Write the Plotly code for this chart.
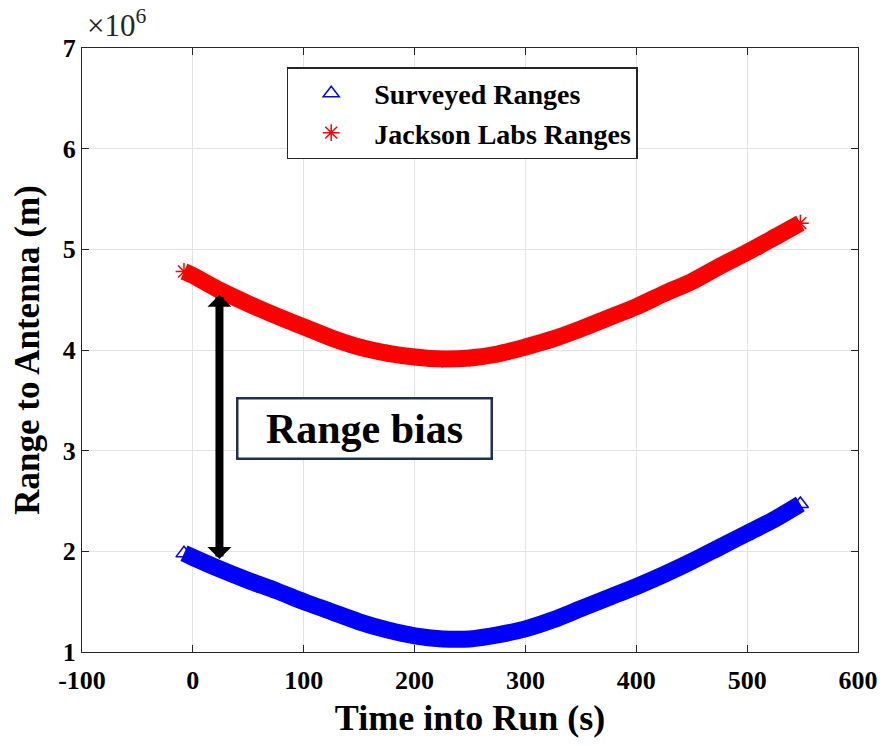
import plotly.graph_objects as go

# ---- data ----
time_s = [-8, 0, 25, 50, 75, 100, 125, 150, 175, 200, 225, 250, 275, 300,
          325, 350, 375, 400, 425, 450, 475, 500, 525, 548]
surveyed_range_m = [1.98e6, 1.94e6, 1.82e6, 1.71e6, 1.61e6, 1.50e6, 1.40e6, 1.30e6,
                    1.22e6, 1.16e6, 1.13e6, 1.13e6, 1.17e6, 1.23e6, 1.32e6, 1.43e6,
                    1.54e6, 1.65e6, 1.77e6, 1.90e6, 2.04e6, 2.18e6, 2.32e6, 2.47e6]
jackson_range_m = [4.78e6, 4.74e6, 4.59e6, 4.46e6, 4.34e6, 4.23e6, 4.12e6, 4.03e6,
                   3.97e6, 3.93e6, 3.91e6, 3.92e6, 3.96e6, 4.03e6, 4.11e6, 4.21e6,
                   4.32e6, 4.43e6, 4.56e6, 4.68e6, 4.83e6, 4.97e6, 5.12e6, 5.26e6]

x_ticks = [-100, 0, 100, 200, 300, 400, 500, 600]
y_ticks = [1e6, 2e6, 3e6, 4e6, 5e6, 6e6, 7e6]
y_tick_labels = ["1", "2", "3", "4", "5", "6", "7"]

# annotation anchors (data units)
arrow_x = 24
arrow_top = 4.55e6
arrow_bottom = 1.91e6
label_x = 155
label_y = 3.22e6

FONT = "Liberation Serif"
BLUE = "#0000ff"
RED = "#ff0000"
AX = "#262626"

fig = go.Figure()

# dense bands (the overlapping markers of the original)
fig.add_trace(go.Scatter(x=time_s, y=surveyed_range_m, mode="lines",
                         line=dict(color=BLUE, width=17, shape="spline", smoothing=0.8),
                         showlegend=False, hoverinfo="skip"))
fig.add_trace(go.Scatter(x=time_s, y=jackson_range_m, mode="lines",
                         line=dict(color=RED, width=17, shape="spline", smoothing=0.8),
                         showlegend=False, hoverinfo="skip"))
# marker traces
fig.add_trace(go.Scatter(x=time_s, y=surveyed_range_m, mode="markers",
                         name="Surveyed Ranges",
                         marker=dict(symbol="triangle-up-open", size=14,
                                     color=BLUE, line=dict(width=1.5, color=BLUE))))
fig.add_trace(go.Scatter(x=time_s, y=jackson_range_m, mode="markers",
                         name="Jackson Labs Ranges",
                         marker=dict(symbol="asterisk-open", size=14,
                                     color=RED, line=dict(width=1.5, color=RED))))

annotations = [
    # double headed arrow
    dict(x=arrow_x, y=arrow_top, ax=arrow_x, ay=arrow_bottom,
         xref="x", yref="y", axref="x", ayref="y", text="",
         showarrow=True, arrowhead=1, startarrowhead=1, arrowside="end+start",
         arrowwidth=8, arrowsize=0.5, startarrowsize=0.5, arrowcolor="#000000"),
    # label box
    dict(x=label_x, y=label_y, xref="x", yref="y", text="Range bias",
         showarrow=False, font=dict(family=FONT, size=42, color="#000000", weight="bold"),
         bgcolor="#ffffff", bordercolor="#1f3050", borderwidth=2.5,
         width=250, height=56, borderpad=1),
    # exponent
    dict(x=0, y=1, xref="paper", yref="paper", xanchor="left", yanchor="bottom",
         yshift=3, xshift=3, text="×10<sup>6</sup>", showarrow=False,
         font=dict(family=FONT, size=31, color="#262626", weight="normal")),
]

fig.update_layout(
    width=890, height=746,
    margin=dict(l=82, r=27, t=48, b=94),
    paper_bgcolor="#ffffff", plot_bgcolor="#ffffff",
    font=dict(family=FONT, size=26, color="#000000", weight="bold"),
    showlegend=True,
    legend=dict(x=0.2638, y=0.9685, xanchor="left", yanchor="top",
                bgcolor="#ffffff", bordercolor=AX, borderwidth=1.5,
                font=dict(family=FONT, size=28, color="#000000", weight="bold"),
                itemwidth=76, tracegroupgap=0),
    annotations=annotations,
)

fig.update_xaxes(range=[-100, 600], tickvals=x_ticks,
                 ticktext=[str(v) for v in x_ticks],
                 ticks="inside", ticklen=7, tickwidth=1.3, tickcolor=AX,
                 showline=True, linecolor=AX, linewidth=1.3, mirror="ticks",
                 showgrid=True, gridcolor="#e3e3e3", gridwidth=1, zeroline=False,
                 ticklabelstandoff=5,
                 tickfont=dict(family=FONT, size=26, color="#000000", weight="bold"),
                 title=dict(text="Time into Run (s)", standoff=10,
                            font=dict(family=FONT, size=36, color="#000000", weight="bold")))
fig.update_yaxes(range=[1e6, 7e6], tickvals=y_ticks, ticktext=y_tick_labels,
                 ticks="inside", ticklen=7, tickwidth=1.3, tickcolor=AX,
                 showline=True, linecolor=AX, linewidth=1.3, mirror="ticks",
                 showgrid=True, gridcolor="#e3e3e3", gridwidth=1, zeroline=False,
                 tickfont=dict(family=FONT, size=26, color="#000000", weight="bold"),
                 title=dict(text="Range to Antenna (m)", standoff=12,
                            font=dict(family=FONT, size=35, color="#000000", weight="bold")))

fig.write_html("out.html")
